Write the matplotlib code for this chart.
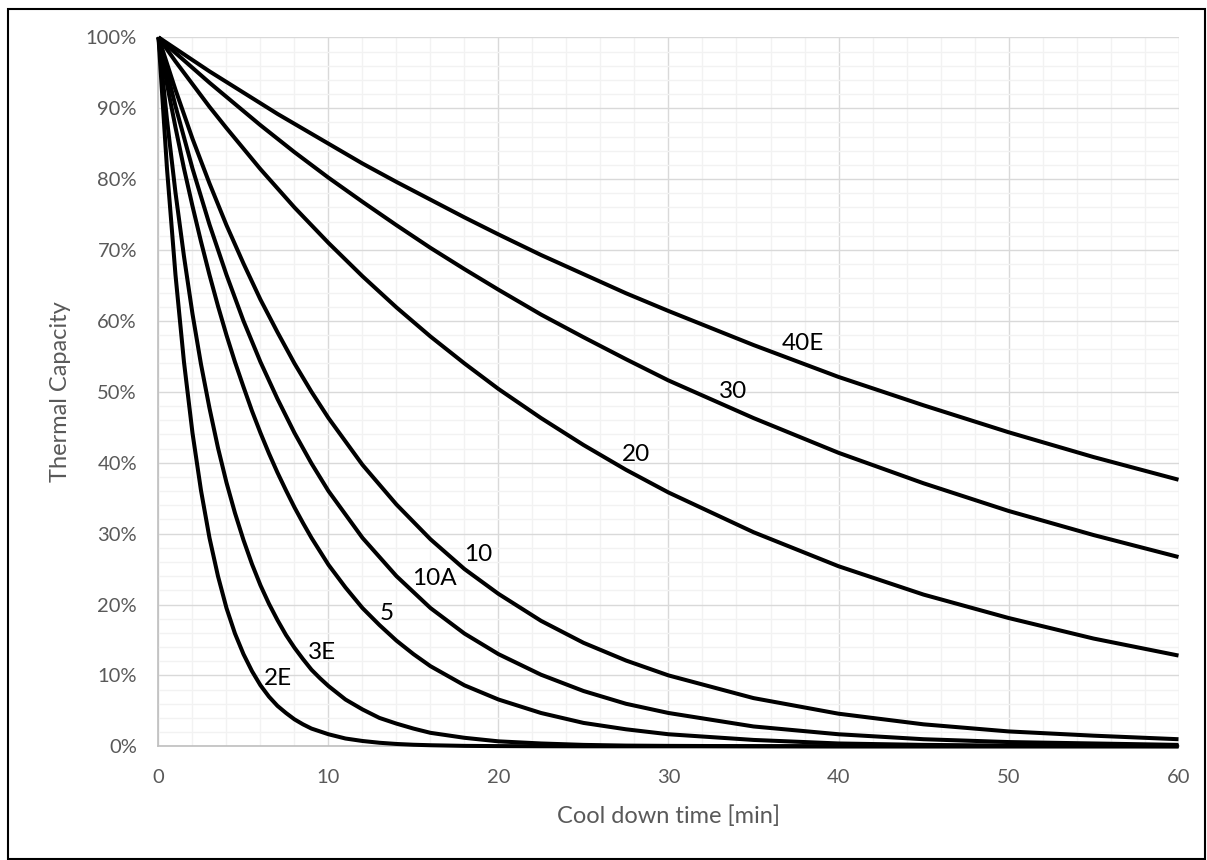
import matplotlib
matplotlib.use("Agg")
import matplotlib.pyplot as plt
from matplotlib.ticker import MultipleLocator, PercentFormatter
from matplotlib.patches import Rectangle

plt.rcParams['font.family'] = ['Lato', 'DejaVu Sans']

# cool down time [min]
t = [0, 1, 2, 3, 4, 5, 6, 7, 8, 9, 10, 12, 14, 16, 18, 20,
     22.5, 25, 27.5, 30, 35, 40, 45, 50, 55, 60]
# finer time steps for the steep curves
t_fine = [0, 0.5, 1, 1.5, 2, 2.5, 3, 3.5, 4, 4.5, 5, 5.5, 6, 6.5, 7, 7.5, 8, 8.5, 9, 9.5, 10,
          11, 12, 13, 14, 15, 16, 18, 20, 22.5, 25, 27.5, 30, 35, 40, 45, 50, 55, 60]

# thermal capacity [%] per curve
c_2e = [100, 81.5, 66.5, 54.2, 44.2, 36.1, 29.4, 24.0, 19.5, 15.9, 13.0, 10.6, 8.6, 7.0, 5.7, 4.7,
        3.8, 3.1, 2.5, 2.1, 1.7,
        1.1, 0.75, 0.5, 0.33, 0.22, 0.15, 0.06, 0.03, 0.01, 0, 0, 0, 0, 0, 0, 0, 0, 0]
c_3e = [100, 88.4, 78.1, 69.1, 61.0, 53.9, 47.7, 42.1, 37.2, 32.9, 29.1, 25.7, 22.7, 20.1, 17.8, 15.7,
        13.9, 12.3, 10.8, 9.6, 8.5,
        6.6, 5.2, 4.0, 3.2, 2.5, 1.9, 1.2, 0.7, 0.4, 0.2, 0.1, 0.06, 0.02, 0, 0, 0, 0, 0]
c_5 = [100, 93.4, 87.3, 81.5, 76.2, 71.2, 66.5, 62.1, 58.0, 54.2, 50.7, 47.3, 44.2, 41.3, 38.6, 36.1,
       33.7, 31.5, 29.4, 27.5, 25.6,
       22.4, 19.5, 17.1, 14.9, 13.0, 11.3, 8.6, 6.6, 4.7, 3.3, 2.4, 1.7, 0.9, 0.4, 0.2, 0.1, 0.06, 0.03]
c_10a = [100, 90.3, 81.5, 73.6, 66.5, 60.0, 54.2, 49.0, 44.2, 39.9, 36.0, 29.4, 24.0, 19.5, 15.9, 13.0,
         10.1, 7.8, 6.0, 4.7, 2.8, 1.7, 1.0, 0.6, 0.4, 0.2]
c_10 = [100, 92.6, 85.7, 79.4, 73.5, 68.1, 63.0, 58.4, 54.0, 50.0, 46.3, 39.7, 34.1, 29.2, 25.0, 21.5,
        17.7, 14.6, 12.1, 10.0, 6.8, 4.6, 3.1, 2.1, 1.5, 1.0]
c_20 = [100, 96.6, 93.4, 90.2, 87.2, 84.3, 81.4, 78.7, 76.0, 73.5, 71.0, 66.3, 61.9, 57.8, 54.0, 50.4,
        46.3, 42.5, 39.0, 35.8, 30.2, 25.4, 21.4, 18.1, 15.2, 12.8]
c_30 = [100, 97.8, 95.7, 93.6, 91.6, 89.6, 87.6, 85.7, 83.8, 82.0, 80.2, 76.8, 73.5, 70.3, 67.3, 64.4,
        60.9, 57.7, 54.6, 51.6, 46.3, 41.4, 37.1, 33.2, 29.8, 26.7]
c_40e = [100, 98.4, 96.8, 95.2, 93.7, 92.2, 90.7, 89.2, 87.8, 86.4, 85.0, 82.2, 79.6, 77.1, 74.6, 72.2,
         69.3, 66.6, 63.9, 61.4, 56.6, 52.1, 48.1, 44.3, 40.8, 37.6]

series = [(t_fine, c_2e), (t_fine, c_3e), (t_fine, c_5), (t, c_10a),
          (t, c_10), (t, c_20), (t, c_30), (t, c_40e)]
names = ['2E', '3E', '5', '10A', '10', '20', '30', '40E']
# label anchor points (time, %)
label_t = [7.05, 9.6, 13.4, 16.2, 18.8, 28.1, 33.8, 37.9]
label_y = [9.6, 13.3, 18.8, 23.7, 27.1, 41.1, 50.0, 56.8]

fig = plt.figure(figsize=(12.07, 8.6), dpi=100)
ax = fig.add_axes([0.1313, 0.1322, 0.8451, 0.8244])

for x, c in series:
    ax.plot(x, c, color='black', lw=2.9, solid_capstyle='butt', clip_on=False, zorder=3)

for n, lx, ly in zip(names, label_t, label_y):
    ax.text(lx, ly, n, fontsize=17.5, ha='center', va='center', color='black', zorder=4)

ax.set_xlim(0, 60)
ax.set_ylim(0, 100)
ax.xaxis.set_major_locator(MultipleLocator(10))
ax.xaxis.set_minor_locator(MultipleLocator(2))
ax.yaxis.set_major_locator(MultipleLocator(10))
ax.yaxis.set_minor_locator(MultipleLocator(2))
ax.yaxis.set_major_formatter(PercentFormatter(decimals=0))

ax.grid(which='minor', color='#F2F2F2', lw=1.0, zorder=0)
ax.grid(which='major', color='#D9D9D9', lw=1.0, zorder=1)
ax.set_axisbelow(True)

for s in ['top', 'right']:
    ax.spines[s].set_visible(False)
for s in ['left', 'bottom']:
    ax.spines[s].set_color('#BFBFBF')
    ax.spines[s].set_linewidth(1.2)

ax.tick_params(which='both', length=0, colors='#595959', labelsize=14.5)
ax.tick_params(axis='x', pad=16)
ax.tick_params(axis='y', pad=15.5)

ax.set_xlabel('Cool down time [min]', fontsize=17, color='#595959', labelpad=14)
ax.set_ylabel('Thermal Capacity', fontsize=17, color='#595959', labelpad=10.5)

# outer frame of the chart
fig.patches.append(Rectangle((8 / 1207, 1 / 860), 1197 / 1207, 850 / 860,
                             transform=fig.transFigure, fill=False,
                             edgecolor='black', lw=1.5))

fig.savefig('out.png', dpi=100)
